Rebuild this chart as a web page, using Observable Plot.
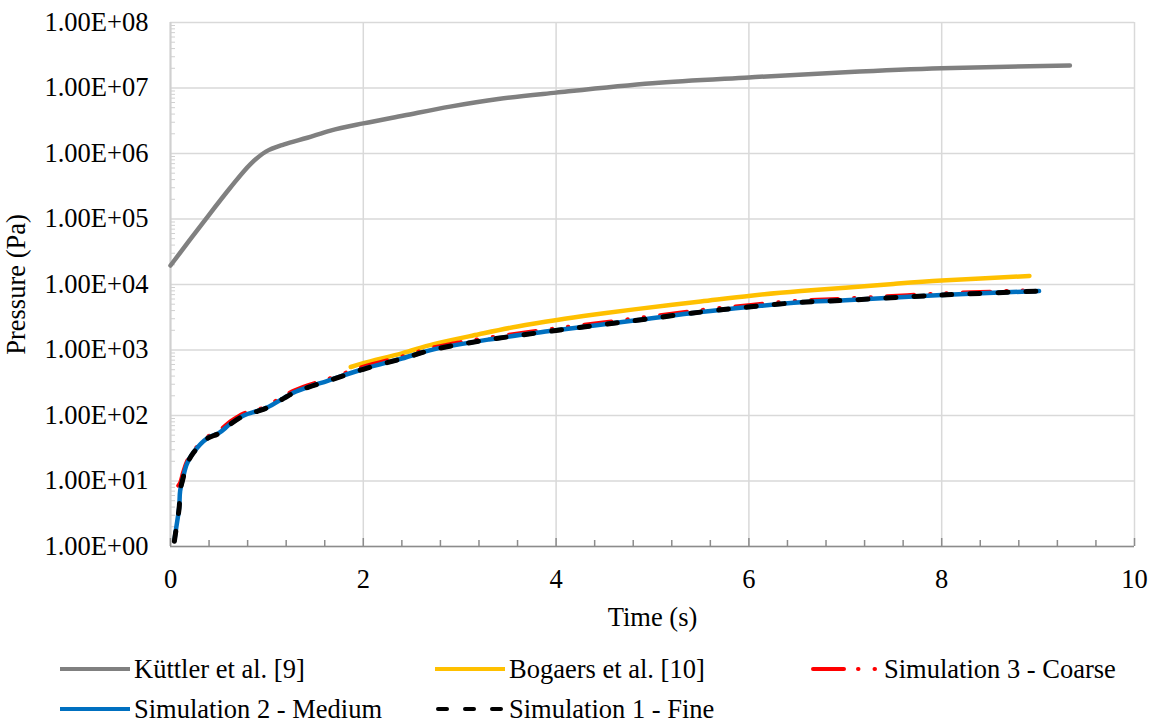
<!DOCTYPE html>
<html>
<head>
<meta charset="utf-8">
<script src="https://cdn.jsdelivr.net/npm/d3@7"></script>
<script src="https://cdn.jsdelivr.net/npm/@observablehq/plot@0.6"></script>
<style>
  body { margin: 0; background: #fff; font-family: "Liberation Serif", "Times New Roman", serif; }
  #wrap { position: relative; width: 1154px; height: 722px; }
  .leg { position: absolute; display: flex; align-items: center; font-size: 26.5px; color: #000; white-space: nowrap; line-height: 1; }
  .leg svg { margin-right: 3px; }
</style>
</head>
<body>
<div id="wrap"></div>
<script>
// ---- Data ----
const kuttlerT = [0, 0.35, 0.62, 0.83, 0.99, 1.18, 1.42, 1.66, 2.0, 2.42, 2.9, 3.4, 4.0, 5.0, 6.0, 7.0, 8.0, 9.33];
const kuttlerP = [1.95e4, 9.3e4, 3.0e5, 6.9e5, 1.07e6, 1.38e6, 1.74e6, 2.24e6, 2.88e6, 3.8e6, 5.2e6, 6.8e6, 8.5e6, 1.18e7, 1.45e7, 1.74e7, 2.0e7, 2.2e7];

const bogaersT = [1.87, 2.0, 2.4, 2.73, 3.2, 3.6, 4.01, 4.4, 4.81, 5.5, 6.02, 6.54, 7.0, 7.5, 8.0, 8.91];
const bogaersP = [550, 630, 890, 1230, 1740, 2290, 2880, 3480, 4170, 5500, 6760, 7940, 8900, 10200, 11500, 13500];

const simT = [0.04, 0.06, 0.09, 0.10, 0.13, 0.17, 0.24, 0.38, 0.50, 0.62, 0.76, 0.90, 1.0, 1.18, 1.28, 1.42, 1.63, 2.0, 2.4, 2.73, 3.3, 4.0, 4.81, 5.5, 6.02, 6.54, 7.0, 8.0, 9.01];
const mediumP = [1.23, 1.95, 3.98, 7.08, 11.2, 18.2, 27.5, 44.7, 53.7, 74.1, 100, 117, 132, 186, 224, 269, 339, 513, 741, 1023, 1445, 1995, 2818, 3802, 4571, 5370, 5754, 6918, 7943];
const fineP   = [1.20, 1.92, 3.90, 7.00, 11.0, 18.0, 27.2, 44.3, 53.2, 73.5, 99, 116, 131, 184, 222, 267, 336, 508, 735, 1015, 1435, 1985, 2800, 3790, 4560, 5350, 5740, 6900, 7940];
const coarseT = [0.08, 0.10, 0.13, 0.17, 0.24, 0.38, 0.50, 0.62, 0.76, 0.90, 1.0, 1.18, 1.28, 1.42, 1.63, 2.0, 2.4, 2.73, 3.3, 4.0, 4.81, 5.5, 6.02, 6.54, 7.0, 8.0, 8.98];
const coarseP = [8.5, 9.5, 13.5, 20.0, 29.0, 47.0, 58.0, 81.0, 108, 122, 140, 200, 240, 288, 360, 555, 795, 1095, 1545, 2140, 3020, 4060, 4870, 5700, 6100, 7300, 8200];

const xMajor = [0, 2, 4, 6, 8, 10];
const xMinor = [0.4, 0.8, 1.2, 1.6, 2.4, 2.8, 3.2, 3.6, 4.4, 4.8, 5.2, 5.6, 6.4, 6.8, 7.2, 7.6, 8.4, 8.8, 9.2, 9.6];
const yMajor = [1e0, 1e1, 1e2, 1e3, 1e4, 1e5, 1e6, 1e7, 1e8];
const yMinor = [];
for (let k = 0; k < 8; k++) for (let m = 2; m <= 9; m++) yMinor.push(m * Math.pow(10, k));

const seriesNames = ["Küttler et al. [9]", "Bogaers et al. [10]", "Simulation 3 - Coarse", "Simulation 2 - Medium", "Simulation 1 - Fine"];

const rows = (name, ts, ps) => ts.map((t, i) => ({series: name, t, p: ps[i]}));
const kuttler = rows(seriesNames[0], kuttlerT, kuttlerP);
const bogaers = rows(seriesNames[1], bogaersT, bogaersP);
const coarse = rows(seriesNames[2], coarseT, coarseP);
const medium = rows(seriesNames[3], simT, mediumP);
const fine = rows(seriesNames[4], simT, fineP);

const fmtY = d => "1.00E+" + String(Math.round(Math.log10(d))).padStart(2, "0");

const styles = {
  k: {stroke: "#808080", strokeWidth: 4.5, strokeLinecap: "round"},
  b: {stroke: "#FFC000", strokeWidth: 4.5, strokeLinecap: "round"},
  c: {stroke: "#FF0000", strokeWidth: 4, strokeDasharray: "27,16,0.5,16,0.5,16", strokeLinecap: "round"},
  m: {stroke: "#0070C0", strokeWidth: 4.5, strokeLinecap: "round"},
  f: {stroke: "#000000", strokeWidth: 5, strokeDasharray: "10,18", strokeLinecap: "round"}
};

const chart = Plot.plot({
  width: 1154,
  height: 640,
  marginLeft: 170,
  marginRight: 20,
  marginTop: 22,
  marginBottom: 94,
  style: {fontFamily: "'Liberation Serif', 'Times New Roman', serif", fontSize: "26.5px", color: "#000", background: "#fff", overflow: "visible"},
  x: {domain: [0, 10]},
  y: {type: "log", domain: [1, 1e8]},
  marks: [
    Plot.gridX(xMajor, {stroke: "#d9d9d9", strokeOpacity: 1, strokeWidth: 1.5}),
    Plot.gridY(yMajor, {stroke: "#d9d9d9", strokeOpacity: 1, strokeWidth: 1.5}),
    Plot.axisY(yMinor, {tickSize: 5, dx: 5, tickFormat: () => "", stroke: "#d0d0d0", label: null}),
    Plot.axisY(yMajor, {tickSize: 0, tickPadding: 22, tickFormat: fmtY, label: "Pressure (Pa)", labelAnchor: "center", labelArrow: "none", labelOffset: 164, fill: "#000"}),
    Plot.ruleX([0], {stroke: "#d0d0d0", strokeWidth: 2}),
    Plot.axisX(xMinor, {tickSize: 6, dy: -6, tickFormat: () => "", stroke: "#8c8c8c", strokeWidth: 1.5, label: null}),
    Plot.axisX(xMajor, {tickSize: 8, dy: -8, tickFormat: () => "", stroke: "#8c8c8c", strokeWidth: 1.5, label: null}),
    Plot.axisX(xMajor, {tickSize: 0, tickPadding: 23, tickFormat: d => String(d), label: "Time (s)", labelAnchor: "center", labelArrow: "none", labelOffset: 79, fill: "#000"}),
    Plot.ruleY([1], {stroke: "#8c8c8c", strokeWidth: 1.5}),
    Plot.line(kuttler, {x: "t", y: "p", curve: "catmull-rom", ...styles.k}),
    Plot.line(bogaers, {x: "t", y: "p", curve: "catmull-rom", ...styles.b}),
    Plot.line(coarse, {x: "t", y: "p", curve: "catmull-rom", ...styles.c}),
    Plot.line(medium, {x: "t", y: "p", curve: "catmull-rom", ...styles.m}),
    Plot.line(fine, {x: "t", y: "p", curve: "catmull-rom", ...styles.f})
  ]
});

const wrap = document.getElementById("wrap");
wrap.appendChild(chart);

// ---- Legend (below the chart) ----
const legendItems = [
  {name: seriesNames[0], s: styles.k, left: 59, top: 669, dash: null},
  {name: seriesNames[1], s: styles.b, left: 434, top: 669, dash: null},
  {name: seriesNames[2], s: styles.c, left: 809, top: 669, dash: "31,14,0.5,16,0.5,30"},
  {name: seriesNames[3], s: styles.m, left: 59, top: 709, dash: null},
  {name: seriesNames[4], s: styles.f, left: 434, top: 709, dash: "9,18"}
];
for (const it of legendItems) {
  const div = document.createElement("div");
  div.className = "leg";
  div.style.left = it.left + "px";
  div.style.top = (it.top - 15) + "px";
  div.style.height = "30px";
  const dash = it.dash ? `stroke-dasharray="${it.dash}"` : "";
  const cap = it.dash ? `stroke-linecap="round"` : "";
  const x1 = it.dash ? 4 : 1;
  div.innerHTML = `<svg width="72" height="12"><line x1="${x1}" y1="6" x2="71" y2="6" stroke="${it.s.stroke}" stroke-width="4" ${dash} ${cap}/></svg><span>${it.name}</span>`;
  wrap.appendChild(div);
}
</script>
</body>
</html>
